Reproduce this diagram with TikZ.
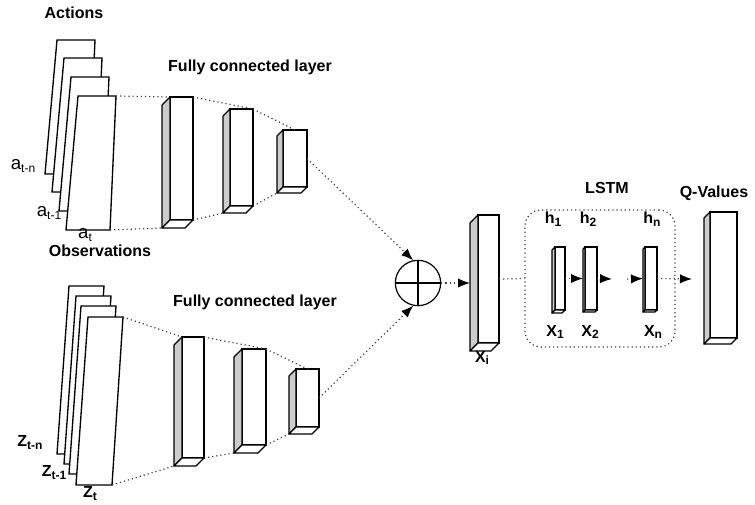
\documentclass[tikz,border=0pt]{standalone}
\usepackage{fontspec}
\setmainfont{Liberation Sans}
\usetikzlibrary{fit,arrows.meta}

\newcommand{\lowsub}[1]{\raisebox{-.35ex}{\fontsize{9}{9}\selectfont #1}}

\tikzset{
  sheet/.style={draw, fill=white, line width=1pt},
  fcbox/.style={draw, fill=white, line width=.9pt, inner sep=0pt, outer sep=0pt},
  sideface/.style={draw, fill=black!20, line width=.9pt, line join=round},
  baseface/.style={draw, fill=white, line width=.9pt, line join=round},
  flow/.style={line width=.9pt, dash pattern=on .9pt off 2.2pt, black!75},
  tip/.style={-{Latex[length=9pt,width=7pt,black,sep=0pt]}},
  lbl/.style={font=\fontsize{12}{14}\selectfont\bfseries},
}

\begin{document}
\begin{tikzpicture}[x=.75pt, y=-.75pt, every node/.style={font=\fontsize{12}{14}\selectfont}]
  \useasboundingbox (0,0) rectangle (755,504);
  % input stacks
  \foreach \n/\x/\y in {a1/57/40, a2/64/58, a3/71/77, a4/78/96}
    \draw[sheet] (\x,\y) coordinate (\n-nw) -- ++(38,0) coordinate (\n-ne) -- ++(-6,134) coordinate (\n-se) -- ++(-44,0) coordinate (\n-sw) -- cycle;
  \foreach \n/\x/\y in {z1/69/286, z2/76/296, z3/81/306, z4/88/317}
    \draw[sheet] (\x,\y) coordinate (\n-nw) -- ++(35,0) coordinate (\n-ne) -- ++(-11,168) coordinate (\n-se) -- ++(-36,0) coordinate (\n-sw) -- cycle;

  % layers
  \foreach \n/\xa/\ya/\xb/\yb/\dd in {t1/170/97/193/220/8, t2/230/109/253/206/7, t3/283/130/307/187/6,
      b1/182/337/204/458/8, b2/242/349/266/445/8, b3/296/369/319/427/7,
      xi/478/215/499/343/8, x1/555/247/565/310/3, x2/585/247/597/310/2, xn/645/247/657/310/2,
      q/710/212/737/338/6} {
    \node[fcbox, fit={(\xa,\ya) (\xb,\yb)}] (\n) {};
    \draw[sideface] (\n.north west) -- ++(-\dd,\dd) -- ([shift={(-\dd,\dd)}]\n.south west) coordinate (\n-back) -- (\n.south west) -- cycle;
    \draw[baseface] (\n.south west) -- (\n-back) -- ([shift={(-\dd,\dd)}]\n.south east) -- (\n.south east) -- cycle;
  }

  % connectors
  \draw[flow] (a4-ne) -- (t1.north west);
  \draw[flow] (a4-se) -- (t1-back);
  \draw[flow] (t1.north east) -- (t2.north east);
  \draw[flow] (t1.south east) -- (t2-back);
  \draw[flow] (t2.north east) -- (t3.north);
  \draw[flow] (t2.south east) -- (t3-back);
  \draw[flow] (z4-ne) -- (b1.north west);
  \draw[flow] (z4-se) -- (b1-back);
  \draw[flow] (b1.north east) -- (b2.north east);
  \draw[flow] (b1.south east) -- (b2-back);
  \draw[flow] (b2.north east) -- (b3.north);
  \draw[flow] (b2.south east) -- (b3-back);

  \node[draw, circle, minimum size=34pt, line width=.9pt, inner sep=0pt] (sum) at (418,283) {};
  \draw[line width=.9pt] (sum.north) -- (sum.south) (sum.west) -- (sum.east);
  \draw[flow, tip] (t3.east) -- (sum.102);
  \draw[flow, tip] (b3.east) -- (sum.258);
  \draw[flow, tip] (sum) -- ([shift={(-8,4)}]xi.west);

  \node[flow, draw, fit={(525,210) (675,347)}, rounded corners=12pt, inner sep=0pt] (lstm) {};
  \draw[flow] (xi.east) -- (lstm.west);
  \coordinate (gap1) at (612,279);
  \coordinate (gap2) at (627,279);
  \coordinate (qin) at (692,279);
  \draw[flow, tip] (x1.east) -- ([shift={(-2,0)}]x2.west);
  \draw[flow, tip] (x2.east) -- (gap1);
  \draw[flow, tip] (gap2) -- ([shift={(-2,0)}]xn.west);
  \draw[flow, tip] (xn.east) -- (qin);

  % labels
  \node[lbl] at (74,13) {Actions};
  \node[lbl] at (100,251) {Observations};
  \node[lbl] at (250,67) {Fully connected layer};
  \node[lbl] at (255,302) {Fully connected layer};
  \node[lbl] at (607,188) {LSTM};
  \node[lbl] at (714,193) {Q-Values};
  \foreach \t/\x/\y in {t-n/23/166, t-1/49/213, t/85/235}
    \node[font=\fontsize{14}{16}\selectfont] at (\x,\y) {a\lowsub{\t}};
  \foreach \t/\x/\y in {t-n/30/443, t-1/54/473, t/90/494}
    \node[lbl] at (\x,\y) {Z\lowsub{\t}};
  \foreach \t/\s/\x/\y in {h/1/553/219, h/2/588/219, h/n/652/219, X/1/555/332, X/2/590/332, X/n/653/332, X/i/482/358}
    \node[lbl] at (\x,\y) {\t\lowsub{\s}};
\end{tikzpicture}
\end{document}
